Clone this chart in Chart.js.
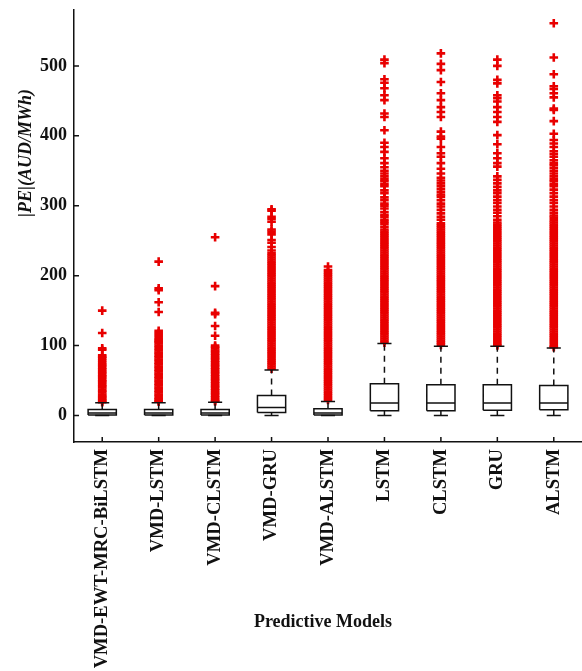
<!DOCTYPE html>
<html lang="en">
<head>
  <meta charset="UTF-8" />
  <title>|PE| box plot of predictive models</title>
  <script src="https://cdn.jsdelivr.net/npm/chart.js"></script>
  <style>
    html, body { margin: 0; padding: 0; background: #fff; }
    .chart-box { width: 582px; height: 671px; position: relative; }
  </style>
</head>
<body>
  <div class="chart-box"><canvas id="boxChart"></canvas></div>

  <script>
    const models = ['VMD-EWT-MRC-BiLSTM', 'VMD-LSTM', 'VMD-CLSTM', 'VMD-GRU', 'VMD-ALSTM', 'LSTM', 'CLSTM', 'GRU', 'ALSTM'];

    // box statistics (AUD/MWh)
    const lowWhisker = [0, 0, 0, 0, 0, 0, 0, 0, 0];
    const q1 = [0.8, 0.8, 0.8, 4.3, 0.8, 6.7, 6.7, 7.5, 8];
    const median = [3.5, 3.5, 3.5, 11.4, 3.5, 17.7, 17.7, 17.7, 17.7];
    const q3 = [8.5, 8.5, 8.5, 28.6, 9.5, 45.3, 44, 44, 43];
    const highWhisker = [18, 18, 19, 65, 20, 103, 99, 99, 96.5];
    const yTicks = [0, 100, 200, 300, 400, 500];

    // outliers (red +), estimated where they form a solid band
    const outVmdEwt = [150, 118, 96, 94, 86, 84, 82, 79, 76, 73, 71, 68, 66, 63, 61, 58, 56, 54, 51, 49, 47, 44, 42, 40, 37, 35, 33, 30, 28, 26, 24, 22, 20, 19];
    const outVmdLstm = [220, 182, 179, 162, 148, 121, 118, 115, 112, 109, 107, 105, 103, 100, 98, 95, 93, 90, 88, 85, 83, 80, 78, 75, 73, 70, 68, 65, 63, 60, 58, 55, 53, 50, 48, 45, 43, 40, 38, 35, 33, 30, 28, 25, 23, 21, 19.5];
    const outVmdClstm = [255, 185, 147, 145, 128, 114, 100, 98, 96, 93, 91, 88, 86, 83, 81, 78, 76, 73, 71, 68, 66, 63, 61, 58, 56, 53, 51, 48, 46, 43, 41, 38, 36, 33, 31, 28, 26, 23, 21, 20];
    const outVmdGru = [295, 293, 284, 281, 277, 266, 263, 259, 251, 247, 241, 236, 232, 229, 226, 223, 220, 217, 214, 211, 208, 205, 202, 199, 196, 193, 190, 187, 184, 181, 178, 175, 172, 169, 166, 163, 160, 157, 154, 151, 148, 145, 142, 139, 136, 133, 130, 127, 124, 121, 118, 115, 112, 109, 106, 103, 100, 97, 94, 91, 88, 85, 82, 79, 76, 73, 70, 67];
    const outVmdAlstm = [213, 208, 205, 202, 199, 196, 193, 190, 187, 184, 181, 178, 175, 172, 169, 166, 163, 160, 157, 154, 151, 148, 145, 142, 139, 136, 133, 130, 127, 124, 121, 118, 115, 112, 109, 106, 103, 100, 97, 94, 91, 88, 85, 82, 79, 76, 73, 70, 67, 64, 61, 58, 55, 52, 49, 46, 43, 40, 37, 34, 31, 28, 25, 22];
    const outLstm = [509, 504, 481, 476, 468, 458, 451, 432, 427, 408, 390, 384, 377, 368, 361, 355, 350, 346, 342, 338, 335, 331, 328, 322, 318, 312, 308, 303, 300, 296, 291, 287, 284, 280, 277, 274, 270, 266, 263,
      260, 257, 254, 251, 248, 245, 242, 239, 236, 233, 230, 227, 224, 221, 218, 215, 212, 209, 206, 203, 200, 197, 194, 191, 188, 185, 182, 179, 176, 173, 170, 167, 164, 161, 158, 155, 152, 149, 146, 143, 140, 137, 134, 131, 128, 125, 122, 119, 116, 113, 110, 107, 104];
    const outClstm = [518, 503, 494, 477, 461, 451, 441, 434, 427, 406, 399, 396, 384, 375, 370, 361, 353, 346, 340, 336, 332, 328, 324, 320, 316, 313, 308, 303, 299, 294, 289, 284, 280, 275, 272,
      269, 266, 263, 260, 257, 254, 251, 248, 245, 242, 239, 236, 233, 230, 227, 224, 221, 218, 215, 212, 209, 206, 203, 200, 197, 194, 191, 188, 185, 182, 179, 176, 173, 170, 167, 164, 161, 158, 155, 152, 149, 146, 143, 140, 137, 134, 131, 128, 125, 122, 119, 116, 113, 110, 107, 104, 101];
    const outGru = [509, 500, 480, 475, 458, 454, 449, 441, 434, 427, 420, 401, 388, 375, 368, 361, 356, 342, 337, 332, 327, 322, 318, 313, 308, 304, 299, 294, 290, 285, 280, 276,
      273, 270, 267, 264, 261, 258, 255, 252, 249, 246, 243, 240, 237, 234, 231, 228, 225, 222, 219, 216, 213, 210, 207, 204, 201, 198, 195, 192, 189, 186, 183, 180, 177, 174, 171, 168, 165, 162, 159, 156, 153, 150, 147, 144, 141, 138, 135, 132, 129, 126, 123, 120, 117, 114, 111, 108, 105, 102, 100];
    const outAlstm = [561, 512, 488, 471, 467, 461, 455, 439, 437, 421, 403, 394, 389, 384, 378, 374, 370, 365, 361, 358, 354, 350, 346, 342, 338, 335, 331, 328, 323, 318, 313, 308, 304, 299, 294, 290, 286, 283, 279,
      276, 273, 270, 267, 264, 261, 258, 255, 252, 249, 246, 243, 240, 237, 234, 231, 228, 225, 222, 219, 216, 213, 210, 207, 204, 201, 198, 195, 192, 189, 186, 183, 180, 177, 174, 171, 168, 165, 162, 159, 156, 153, 150, 147, 144, 141, 138, 135, 132, 129, 126, 123, 120, 117, 114, 111, 108, 105, 102, 99, 97.5];
    const outliers = [outVmdEwt, outVmdLstm, outVmdClstm, outVmdGru, outVmdAlstm, outLstm, outClstm, outGru, outAlstm];

    const serif = '"Liberation Serif", "Times New Roman", serif';
    const ink = '#111';
    const boxHalf = 0.25;
    const capHalf = 0.125;

    // segments separated by a null point so the line breaks between boxes
    const boxPts = [], medPts = [], whiskerPts = [], capPts = [], outPts = [];
    models.forEach((m, i) => {
      const x = i + 1;
      boxPts.push({x: x - boxHalf, y: q1[i]}, {x: x + boxHalf, y: q1[i]}, {x: x + boxHalf, y: q3[i]},
                  {x: x - boxHalf, y: q3[i]}, {x: x - boxHalf, y: q1[i]}, {x: x, y: null});
      medPts.push({x: x - boxHalf, y: median[i]}, {x: x + boxHalf, y: median[i]}, {x: x, y: null});
      whiskerPts.push({x: x, y: q3[i]}, {x: x, y: highWhisker[i]}, {x: x, y: null},
                      {x: x, y: q1[i]}, {x: x, y: lowWhisker[i]}, {x: x, y: null});
      capPts.push({x: x - capHalf, y: highWhisker[i]}, {x: x + capHalf, y: highWhisker[i]}, {x: x, y: null},
                  {x: x - capHalf, y: lowWhisker[i]}, {x: x + capHalf, y: lowWhisker[i]}, {x: x, y: null});
      outliers[i].forEach(v => outPts.push({x: x, y: v}));
    });

    const segLine = (label, data, extra) => Object.assign({
      label: label, data: data, type: 'line', borderColor: ink, borderWidth: 1.5,
      pointRadius: 0, spanGaps: false, fill: false, tension: 0, order: 1
    }, extra || {});

    // inward tick marks and the two axis titles
    const axisDecor = {
      id: 'axisDecor',
      afterDraw(chart) {
        const {ctx, chartArea, scales: {x, y}} = chart;
        ctx.save();
        ctx.strokeStyle = ink;
        ctx.lineWidth = 1.5;
        ctx.beginPath();
        x.ticks.forEach(t => {
          const px = x.getPixelForValue(t.value);
          ctx.moveTo(px, chartArea.bottom);
          ctx.lineTo(px, chartArea.bottom - 5);
        });
        y.ticks.forEach(t => {
          const py = y.getPixelForValue(t.value);
          ctx.moveTo(chartArea.left, py);
          ctx.lineTo(chartArea.left + 5, py);
        });
        ctx.stroke();

        ctx.fillStyle = ink;
        ctx.textAlign = 'center';
        ctx.textBaseline = 'middle';
        ctx.font = 'bold 18px ' + serif;
        ctx.fillText('Predictive Models', 323, 622);
        ctx.translate(26, 153);
        ctx.rotate(-Math.PI / 2);
        ctx.font = 'italic bold 18px ' + serif;
        ctx.fillText('|PE|(AUD/MWh)', 0, 0);
        ctx.restore();
      }
    };

    new Chart(document.getElementById('boxChart'), {
      type: 'line',
      data: {
        datasets: [
          segLine('box', boxPts),
          segLine('median', medPts),
          segLine('whisker', whiskerPts, {borderDash: [6, 5]}),
          segLine('cap', capPts),
          {
            label: 'outliers', data: outPts, type: 'line', showLine: false,
            pointStyle: 'cross', pointRadius: 4.3, pointBorderWidth: 2.6,
            pointBorderColor: '#e80000', borderColor: '#e80000', order: 5
          }
        ]
      },
      options: {
        responsive: true,
        maintainAspectRatio: false,
        animation: false,
        events: [],
        layout: { autoPadding: false, padding: { top: 10, right: 0, left: 0, bottom: 0 } },
        plugins: { legend: { display: false }, tooltip: { enabled: false } },
        scales: {
          x: {
            type: 'linear',
            min: 0.5,
            max: 9.5,
            afterBuildTicks: s => { s.ticks = models.map((m, i) => ({value: i + 1})); },
            afterFit: s => { s.height = 229; s.paddingRight = 0; s.paddingLeft = 0; },
            grid: { display: false, drawTicks: false },
            border: { display: true, color: ink, width: 1.5 },
            ticks: {
              autoSkip: false,
              minRotation: 90,
              maxRotation: 90,
              padding: 7,
              color: ink,
              font: { family: serif, size: 18.6, weight: 'bold' },
              callback: v => models[Math.round(v) - 1]
            }
          },
          y: {
            min: -38,
            max: 580,
            afterBuildTicks: s => { s.ticks = yTicks.map(v => ({value: v})); },
            afterFit: s => { s.width = 74; s.paddingTop = 0; s.paddingBottom = 0; },
            grid: { display: false, drawTicks: false },
            border: { display: true, color: ink, width: 1.5 },
            ticks: {
              padding: 7,
              color: ink,
              font: { family: serif, size: 18, weight: 'bold' }
            }
          }
        }
      },
      plugins: [axisDecor]
    });
  </script>
</body>
</html>
